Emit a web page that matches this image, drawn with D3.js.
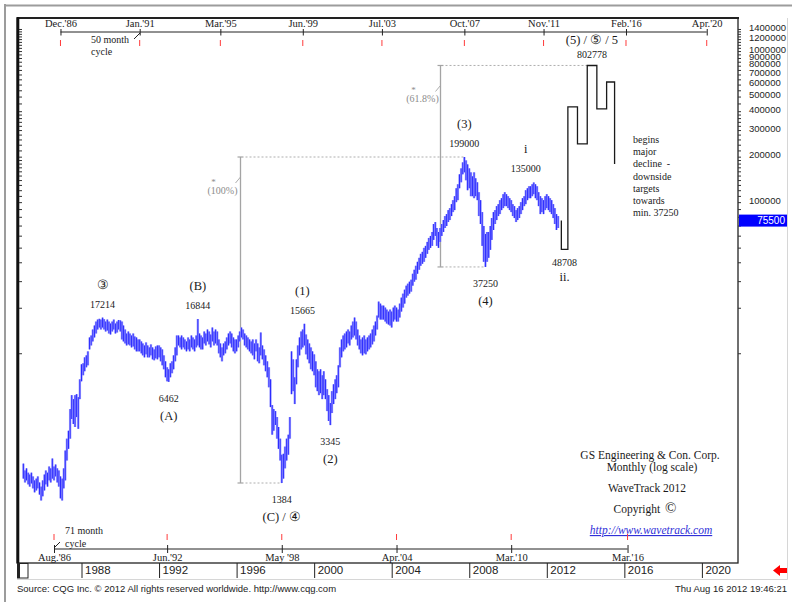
<!DOCTYPE html>
<html>
<head>
<meta charset="utf-8">
<script src="https://cdn.jsdelivr.net/npm/d3@7/dist/d3.min.js"></script>
<style>
  html, body { margin: 0; padding: 0; background: #ffffff; }
  svg { display: block; }
</style>
</head>
<body>
<svg id="chart" width="792" height="602"></svg>
<script>
// GS Engineering & Construction – monthly bars from Jan 1985, log price scale
const firstMonth = "1985-01";

const monthHigh = [
  1860,1675,1730,1620,1575,1620,1530,1440,1480,1530,1395,1310,            // 1985
  1440,1575,1675,1620,1780,1730,2010,1780,1835,1730,1675,1530,            // 1986
  1480,1730,2270,2720,3070,4270,5280,4970,5280,5360,5120,6720,            // 1987
  8450,8580,9390,9680,10290,12720,13110,14360,15260,16210,16710,16900,    // 1988
  16710,17214,16800,16210,16710,16210,15730,16210,16710,15730,16210,16600,// 1989
  16500,16210,15260,14360,13510,13930,13510,13110,13510,12910,12720,12340,// 1990
  12340,11970,11610,11260,11790,11260,10930,11440,10930,10600,11090,11260,// 1991
  11260,10930,10600,9680,8840,8070,7830,8580,8840,9680,10930,13110,       // 1992
  13110,12720,13110,12720,12340,11970,12720,12340,13110,12720,12340,13110,// 1993
  16844,13510,13110,12720,13930,13510,14360,13930,13310,14800,13930,14360,// 1994
  13930,12340,11610,10930,11610,11970,12720,13510,13930,13510,12720,12340,// 1995
  12340,13110,13930,14800,14360,13510,13110,12720,12340,11970,12340,11610,// 1996
  12340,11610,10930,13720,11260,10600,9680,8840,8070,6720,4540,4270,      // 1997
  4140,3780,3250,2720,2130,2160,2410,2720,2890,3780,10290,9110,           // 1998
  6930,9110,11260,12720,13930,14360,15665,13310,12340,11610,10930,10290,  // 1999
  9830,8840,7830,7600,7830,7150,7600,6720,5780,5280,4680,5610,            // 2000
  6230,6720,7150,8320,10930,12340,13110,13510,13930,14360,13930,15260,    // 2001
  16210,17230,16210,14360,13110,12340,12720,13110,12340,12720,13110,13510,// 2002
  14360,15260,16210,17760,21970,21310,20670,20670,20060,19460,18870,19460,// 2003
  18870,20060,20670,20060,19460,21310,23340,24800,26350,28000,28870,29760,// 2004
  30670,33590,35690,37920,40290,42810,45490,46890,49820,51350,54560,57960,// 2005
  59750,63480,71660,73860,67440,63480,67440,71660,76130,80890,83380,88580,// 2006
  91300,97010,103080,109510,123610,131340,152830,167350,183370,199000,188960,177830, // 2007
  167350,157490,148280,157490,143850,135360,116360,103080,85940,69520,61580,63480,   // 2008
  63480,69520,78470,85940,88580,94110,97010,103080,106250,112880,116360,112880,      // 2009
  109510,106250,103080,97010,94110,88580,91300,94110,100000,106250,109510,119940,    // 2010
  123610,127430,127430,131340,135000,131340,127430,116360,109510,106250,103080,109510,// 2011
  112880,109510,106250,103080,97010,91300,83380,80890                                 // 2012
];

const monthLow = [
  1480,1395,1440,1355,1310,1375,1275,1200,1235,1275,1160,1060,            // 1985
  1130,1235,1355,1310,1440,1395,1480,1440,1530,1395,1310,1095,            // 1986
  1060,1275,1440,1950,2330,2720,3670,3400,3250,3780,3160,4970,            // 1987
  6520,7150,7600,8070,8320,10600,11260,11970,12720,13510,14360,14800,     // 1988
  14360,14800,14360,13930,14140,13510,13310,13930,14360,13510,13720,14360,// 1989
  13930,12340,11970,11610,11260,11440,11260,10930,11090,10600,10290,10290,// 1990
  10290,9980,9680,9390,9830,9390,9390,9680,9110,8980,9250,9110,           // 1991
  9390,8840,8320,7830,6930,6520,6462,6930,7370,7830,8840,9680,            // 1992
  11260,10930,10600,10930,10600,10290,10600,10290,10930,10600,10290,10930,// 1993
  11260,10930,10600,10600,11610,11260,11970,11440,10930,11970,11260,11610,// 1994
  11260,9980,9390,8840,9680,9980,10600,11260,11610,10930,10290,9980,      // 1995
  10290,10930,11970,12720,12340,11260,10930,10600,10290,9980,9680,9110,   // 1996
  10290,8840,8580,9680,9110,8320,7600,6930,5950,4400,2890,3070,           // 1997
  3350,2720,2330,1950,1384,1480,1730,1950,2130,2720,5360,5610,            // 1998
  4610,6230,8070,9680,10600,10930,11260,9830,9110,8580,7830,7600,         // 1999
  7150,5950,5610,5280,5440,4970,5280,4970,4140,3560,3345,4020,            // 2000
  4610,4970,5440,5950,8070,9390,10290,10600,10930,11610,11260,12340,      // 2001
  12720,13110,12340,11260,10600,9980,9680,9980,9830,10290,10600,10930,    // 2002
  11440,11970,13110,14360,17230,16710,16710,16710,16210,15730,15490,15260,// 2003
  14800,16210,16710,16210,16210,17230,18870,20060,21310,23340,24060,24800,// 2004
  25570,28000,29760,30670,33590,35690,37920,39090,40290,42810,45490,48330,// 2005
  49820,51350,56240,59750,51350,49820,54560,59750,63480,67440,69520,73860,// 2006
  76130,80890,85940,88580,100000,103080,123610,135360,152830,157490,139550,119940,   // 2007
  123610,109510,109510,106250,109510,103080,80890,71660,51350,40290,37250,40290,     // 2008
  42810,48330,56240,65430,71660,76130,80890,83380,88580,91300,94110,94110,           // 2009
  91300,88580,85940,80890,78470,73860,76130,78470,83380,88580,94110,97010,           // 2010
  103080,106250,106250,109510,112880,106250,103080,94110,83380,85940,83380,88580,    // 2011
  91300,88580,85940,83380,78470,71660,65430,67440                                     // 2012
];

const lastPrice = 75500;

// projected wave path: each level is reached at the matching date
const projDates  = ["2012-10", "2013-02", "2013-08", "2014-02", "2014-08", "2015-02", "2015-07"];
const projLevels = [48708, 427000, 243000, 802778, 414000, 624000, 179000];

// wave pivots
const pivotDates  = ["1989-02", "1992-07", "1994-01", "1998-05", "1999-07", "2000-11", "2007-10", "2008-11", "2011-05", "2012-12", "2014-05"];
const pivotValues = [17214, 6462, 16844, 1384, 15665, 3345, 199000, 37250, 135000, 48708, 802778];
const pivotNames  = ["③", "(A)", "(B)", "(C) / ④", "(1)", "(2)", "(3)", "(4)", "i", "ii.", "(5) / ⑤ / 5"];
const pivotIsHigh = [true, false, true, false, true, false, true, false, true, false, true];

// Fibonacci measurement lines
const fibLabels  = ["(100%)", "(61.8%)"];
const fibDates   = ["1996-03", "2006-07"];
const fibFrom    = [1384, 37250];
const fibTo      = [199000, 802778];
const fibFromEnd = ["1998-05", "2008-11"];
const fibToEnd   = ["2007-10", "2014-02"];

// axes
const priceLabels = [1400000, 1200000, 1000000, 900000, 800000, 700000, 600000, 500000, 400000, 300000, 200000, 100000];
const yearTicks   = [1988, 1992, 1996, 2000, 2004, 2008, 2012, 2016, 2020];
const cycle50Dates  = ["1986-12", "1991-01", "1995-03", "1999-06", "2003-07", "2007-10", "2011-11", "2016-02", "2020-04"];
const cycle50Labels = ["Dec.'86", "Jan.'91", "Mar.'95", "Jun.'99", "Jul.'03", "Oct.'07", "Nov.'11", "Feb.'16", "Apr.'20"];
const cycle71Dates  = ["1986-08", "1992-06", "1998-05", "2004-04", "2010-03", "2016-03"];
const cycle71Labels = ["Aug.'86", "Jun.'92", "May '98", "Apr.'04", "Mar.'10", "Mar.'16"];

const outlook = ["begins", "major", "decline  -", "downside", "targets", "towards", "min. 37250"];
const titleLines = ["GS Engineering & Con. Corp.", "Monthly (log scale)", "WaveTrack 2012"];

// ---------------------------------------------------------------
const SERIF = '"Liberation Serif", "Times New Roman", serif';
const SANS = '"Liberation Sans", Arial, sans-serif';
const svg = d3.select("#chart");
const frame = { left: 17, right: 738, top: 18, bottom: 563 };
const pm = d3.timeParse("%Y-%m");

const x = d3.scaleTime().domain([new Date(1988, 0, 1), new Date(2020, 0, 1)]).range([81.5, 701.9]);
const y = d3.scaleLog().domain([1384, 199000]).range([483, 157]);

svg.append("rect").attr("width", 792).attr("height", 602).attr("fill", "#ffffff");

// window edges
svg.append("line").attr("x1", 4).attr("x2", 792).attr("y1", 5.5).attr("y2", 5.5)
  .attr("stroke", "#9c9c9c").attr("stroke-width", 2);
svg.append("line").attr("x1", 5).attr("x2", 5).attr("y1", 4).attr("y2", 602)
  .attr("stroke", "#9c9c9c").attr("stroke-width", 2);
svg.append("path").attr("d", "M17,579.5H787.5V18").attr("fill", "none")
  .attr("stroke", "#d6d6d6").attr("stroke-width", 1);

// plot frame
svg.append("rect").attr("x", frame.left).attr("y", frame.top)
  .attr("width", frame.right - frame.left).attr("height", frame.bottom - frame.top)
  .attr("fill", "#ffffff").attr("stroke", "#222").attr("stroke-width", 1.3);
svg.append("line").attr("x1", frame.left).attr("x2", frame.right + 1).attr("y1", 18).attr("y2", 18)
  .attr("stroke", "#222").attr("stroke-width", 2);
svg.append("line").attr("x1", 18).attr("x2", 18).attr("y1", 17).attr("y2", frame.bottom)
  .attr("stroke", "#111").attr("stroke-width", 2.6);

// Fibonacci measurements
const fibG = svg.append("g");
fibDates.forEach((dt, i) => {
  const fx = Math.round(x(pm(dt))) + 0.5;
  const yTop = y(fibTo[i]), yBot = y(fibFrom[i]);
  fibG.append("line").attr("x1", fx).attr("x2", fx).attr("y1", yTop).attr("y2", yBot)
    .attr("stroke", "#a4a4a4").attr("stroke-width", 1.3);
  [yTop, yBot].forEach(yy => fibG.append("line").attr("x1", fx - 3).attr("x2", fx + 3)
    .attr("y1", yy).attr("y2", yy).attr("stroke", "#a4a4a4").attr("stroke-width", 1.2));
  fibG.append("line").attr("x1", fx + 5).attr("x2", x(pm(fibToEnd[i]))).attr("y1", yTop).attr("y2", yTop)
    .attr("stroke", "#9a9a9a").attr("stroke-width", 0.8).attr("stroke-dasharray", "2,2");
  fibG.append("line").attr("x1", fx + 5).attr("x2", x(pm(fibFromEnd[i]))).attr("y1", yBot).attr("y2", yBot)
    .attr("stroke", "#9a9a9a").attr("stroke-width", 0.8).attr("stroke-dasharray", "2,2");
  fibG.append("line").attr("x1", fx - 5).attr("x2", fx).attr("y1", yTop + 26).attr("y2", yTop + 20)
    .attr("stroke", "#a4a4a4").attr("stroke-width", 0.9);
  fibG.append("text").attr("x", fx - 27).attr("y", yTop + 28).attr("text-anchor", "middle")
    .attr("font-family", SERIF).attr("font-size", 9).attr("fill", "#8c8c8c").text("*");
  fibG.append("text").attr("x", fx - 18).attr("y", yTop + 37).attr("text-anchor", "middle")
    .attr("font-family", SERIF).attr("font-size", 10).attr("fill", "#8c8c8c").text(fibLabels[i]);
});

// monthly price bars
const start = pm(firstMonth);
const bars = monthHigh.map((h, i) => ({
  date: new Date(start.getFullYear(), start.getMonth() + i, 1), high: h, low: monthLow[i]
}));
const barG = svg.append("g");
barG.selectAll("line.halo").data(bars).join("line").attr("class", "halo")
  .attr("x1", d => x(d.date)).attr("x2", d => x(d.date))
  .attr("y1", d => y(d.high)).attr("y2", d => y(d.low))
  .attr("stroke", "#a2a2ff").attr("stroke-width", 2.4);
barG.selectAll("line.bar").data(bars).join("line").attr("class", "bar")
  .attr("x1", d => x(d.date)).attr("x2", d => x(d.date))
  .attr("y1", d => y(d.high)).attr("y2", d => y(d.low))
  .attr("stroke", "#2a2aff").attr("stroke-width", 1.0);

// projected path
let pd = `M${x(pm(projDates[0]))},${y(lastPrice)}`;
projLevels.forEach((v, i) => {
  pd += `V${y(v)}`;
  if (i + 1 < projDates.length) pd += `H${x(pm(projDates[i + 1]))}`;
});
svg.append("path").attr("d", pd).attr("fill", "none").attr("stroke", "#1a1a1a").attr("stroke-width", 1.3);

// wave labels
const labelG = svg.append("g").attr("font-family", SERIF).attr("fill", "#1a1a1a").attr("text-anchor", "middle");
pivotValues.forEach((v, i) => {
  let lx = x(pm(pivotDates[i]));
  if (v === 135000) lx -= 8;
  if (v === 15665) lx -= 2;
  const py = y(v);
  let numY, nameY;
  if (v === 802778) { numY = py - 7; nameY = py - 21; }
  else if (v === 48708) { numY = py + 17; nameY = py + 32; }
  else if (pivotIsHigh[i]) { numY = py - 10; nameY = py - 29; }
  else { numY = py + 20; nameY = py + 38; }
  labelG.append("text").attr("x", lx).attr("y", numY).attr("font-size", 10).text(d3.format("d")(v));
  labelG.append("text").attr("x", lx).attr("y", nameY).attr("font-size", 12.5).text(pivotNames[i]);
});

// outlook note
const noteG = svg.append("g").attr("font-family", SERIF).attr("font-size", 10).attr("fill", "#1a1a1a");
outlook.forEach((t, i) => noteG.append("text").attr("x", 633).attr("y", 143 + i * 12.2)
  .attr("xml:space", "preserve").text(t));

// title block
const tG = svg.append("g").attr("font-family", SERIF).attr("font-size", 11.5).attr("fill", "#1a1a1a")
  .attr("text-anchor", "middle");
tG.append("text").attr("x", 650).attr("y", 459).text(titleLines[0]);
tG.append("text").attr("x", 652).attr("y", 471).text(titleLines[1]);
tG.append("text").attr("x", 647).attr("y", 492).text(titleLines[2]);
const cp = tG.append("text").attr("x", 645).attr("y", 513);
cp.append("tspan").text("Copyright");
cp.append("tspan").attr("dx", 5).attr("font-size", 15).text("©");
tG.append("text").attr("x", 651).attr("y", 534).attr("font-style", "italic")
  .attr("fill", "#3030d8").attr("text-decoration", "underline").text("http://www.wavetrack.com");

// right price axis
const gR = svg.append("g").attr("transform", `translate(${frame.right},0)`)
  .call(d3.axisRight(y).tickValues(priceLabels).tickSize(0).tickPadding(11).tickFormat(d3.format("d")));
gR.attr("font-family", SANS).attr("font-size", 9.5);
gR.select(".domain").remove();
gR.selectAll("text").attr("fill", "#1e1e1e").attr("dy", "0.12em");

const minorTicks = [];
for (let v = 10000; v < 100000; v += 10000) minorTicks.push(v);
for (let v = 100000; v < 200000; v += 10000) minorTicks.push(v);
for (let v = 200000; v < 400000; v += 20000) minorTicks.push(v);
for (let v = 400000; v <= 1400000; v += 50000) minorTicks.push(v);
[frame.right, 19].forEach(px => {
  const g = svg.append("g").attr("transform", `translate(${px},0)`)
    .call(d3.axisRight(y).tickValues(minorTicks).tickSize(3).tickFormat(""));
  g.select(".domain").remove();
  g.selectAll("line").attr("stroke", "#333");
});

// last price tag
svg.append("rect").attr("x", 739).attr("y", y(lastPrice) - 6).attr("width", 48).attr("height", 12)
  .attr("fill", "#0000ff");
svg.append("text").attr("x", 785).attr("y", y(lastPrice) + 3.5).attr("text-anchor", "end")
  .attr("font-family", SANS).attr("font-size", 10).attr("fill", "#ffffff").text(d3.format("d")(lastPrice));

// bottom year axis
const gX = svg.append("g").attr("transform", `translate(0,${frame.bottom})`)
  .call(d3.axisBottom(x).tickValues(yearTicks.map(yr => new Date(yr, 0, 1))).tickSize(15)
    .tickFormat(d3.timeFormat("%Y")));
gX.attr("font-family", SANS).attr("font-size", 11.5);
gX.select(".domain").remove();
gX.selectAll("line").attr("stroke", "#222");
gX.selectAll("text").attr("text-anchor", "start").attr("x", 3).attr("y", 11).attr("dy", 0).attr("fill", "#222");
svg.append("rect").attr("x", 17.5).attr("y", 563.5).attr("width", 10.5).attr("height", 14.5)
  .attr("fill", "none").attr("stroke", "#222").attr("stroke-width", 1);
svg.append("line").attr("x1", 19).attr("x2", 19).attr("y1", 563).attr("y2", 578)
  .attr("stroke", "#222").attr("stroke-width", 2);

// 50 month cycle axis (top)
const c50 = cycle50Dates.map(pm);
const gTop = svg.append("g").attr("transform", "translate(0,32)")
  .call(d3.axisTop(x).tickValues(c50).tickSize(3).tickPadding(2).tickFormat((d, i) => cycle50Labels[i]));
gTop.attr("font-family", SERIF).attr("font-size", 10.5);
gTop.select(".domain").remove();
gTop.selectAll("line").attr("y1", 3.5).attr("y2", -3).attr("stroke", "#222");
gTop.selectAll("text").attr("fill", "#1a1a1a");
svg.append("line").attr("x1", x(c50[0])).attr("x2", x(c50[c50.length - 1])).attr("y1", 32).attr("y2", 32)
  .attr("stroke", "#222").attr("stroke-width", 1);
svg.append("g").selectAll("line").data(c50).join("line")
  .attr("x1", d => x(d)).attr("x2", d => x(d)).attr("y1", 40).attr("y2", 46)
  .attr("stroke", "#ff3b3b").attr("stroke-width", 1);

// 71 month cycle axis (bottom)
const c71 = cycle71Dates.map(pm);
const gBot = svg.append("g").attr("transform", "translate(0,549)")
  .call(d3.axisBottom(x).tickValues(c71).tickSize(4).tickPadding(8).tickFormat((d, i) => cycle71Labels[i]));
gBot.attr("font-family", SERIF).attr("font-size", 10.5);
gBot.select(".domain").remove();
gBot.selectAll("line").attr("y1", -4).attr("y2", 4).attr("stroke", "#222");
gBot.selectAll("text").attr("y", 12).attr("dy", 0).attr("fill", "#1a1a1a");
svg.append("line").attr("x1", x(c71[0])).attr("x2", x(c71[c71.length - 1])).attr("y1", 549).attr("y2", 549)
  .attr("stroke", "#222").attr("stroke-width", 1);
svg.append("g").selectAll("line").data(c71).join("line")
  .attr("x1", d => x(d)).attr("x2", d => x(d)).attr("y1", 534).attr("y2", 540)
  .attr("stroke", "#ff3b3b").attr("stroke-width", 1);

// cycle captions
const capG = svg.append("g").attr("font-family", SERIF).attr("font-size", 10).attr("fill", "#1a1a1a");
capG.append("text").attr("x", 91).attr("y", 43).text("50 month");
capG.append("text").attr("x", 91).attr("y", 55).text("cycle");
capG.append("line").attr("x1", 134).attr("x2", 140).attr("y1", 39).attr("y2", 33).attr("stroke", "#222");
capG.append("text").attr("x", 65).attr("y", 534).text("71 month");
capG.append("text").attr("x", 65).attr("y", 547).text("cycle");
capG.append("line").attr("x1", 54).attr("x2", 60).attr("y1", 548).attr("y2", 542).attr("stroke", "#222");

// footer
svg.append("text").attr("x", 17).attr("y", 592).attr("font-family", SANS).attr("font-size", 9.5)
  .attr("fill", "#222").text("Source: CQG Inc. © 2012 All rights reserved worldwide. http://www.cqg.com");
svg.append("text").attr("x", 787).attr("y", 592).attr("text-anchor", "end").attr("font-family", SANS)
  .attr("font-size", 9.5).attr("fill", "#222").text("Thu Aug 16 2012 19:46:21");
svg.append("path").attr("d", "M773,570.5L780,565V568H787V573H780V576Z").attr("fill", "#ff0000");
</script>
</body>
</html>
